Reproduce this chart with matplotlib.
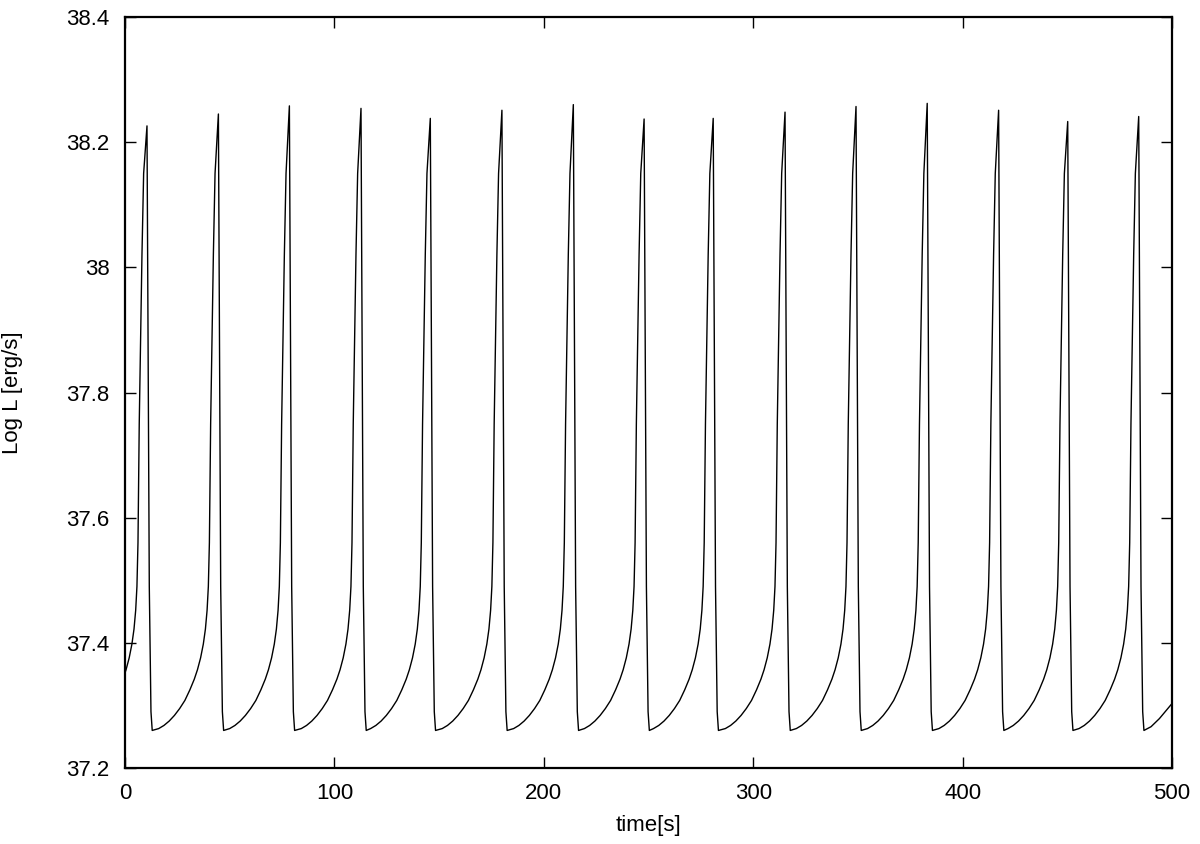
import numpy as np
import matplotlib
matplotlib.use("Agg")
import matplotlib.pyplot as plt

plt.rcParams['font.family'] = ['Liberation Sans', 'DejaVu Sans']

# Peak times [s] and peak values (Log L)
peak_t = [10.5, 44.6, 78.5, 112.7, 145.8, 180.0, 214.1, 247.9, 280.9, 315.2,
          349.1, 383.1, 417.2, 450.2, 484.1]
peak_v = [38.226, 38.245, 38.258, 38.254, 38.238, 38.251, 38.260, 38.237, 38.238,
          38.248, 38.257, 38.262, 38.251, 38.233, 38.241]

# One burst shape: rise before a peak, fall after it (offsets in s)
rise_dt = [-28.5, -26.0, -23.5, -21.0, -18.5, -16.0, -13.6, -11.5, -10.0, -8.5,
           -7.2, -6.2, -5.4, -4.8, -4.3, -3.7, -3.0, -2.4, -1.6]
rise_v = [37.263, 37.268, 37.275, 37.284, 37.295, 37.308, 37.325, 37.342, 37.357, 37.376,
          37.398, 37.422, 37.452, 37.490, 37.560, 37.75, 37.89, 38.02, 38.15]
fall_dt = [1.1, 1.9, 2.5]
fall_v = [37.49, 37.29, 37.260]

# Final slow rise after the last burst
tail_t = [490.0, 494.0, 500.0]
tail_v = [37.266, 37.279, 37.303]

t_all, v_all = [], []
for tp, vp in zip(peak_t, peak_v):
    t_all += [tp + d for d in rise_dt] + [tp] + [tp + d for d in fall_dt]
    v_all += rise_v + [vp] + fall_v
t_all += tail_t
v_all += tail_v

fig = plt.figure(figsize=(12, 8.44), dpi=100)
ax = fig.add_axes([125/1200, 1 - 768/844, (1172-125)/1200, (768-17)/844])
ax.plot(t_all, v_all, color='black', lw=1.0)

ax.set_xlim(0, 500)
ax.set_ylim(37.2, 38.4)
xt = [0, 100, 200, 300, 400, 500]
yt = [37.2, 37.4, 37.6, 37.8, 38.0, 38.2, 38.4]
ylab = ['37.2', '37.4', '37.6', '37.8', '38', '38.2', '38.4']
ax.set_xticks(xt)
ax.set_xticklabels([str(v) for v in xt])
ax.set_yticks(yt)
ax.set_yticklabels(ylab)
ax.tick_params(direction='in', length=8, width=1.0, top=True, right=True,
               labelsize=16, pad=11, colors='black')
for s in ax.spines.values():
    s.set_linewidth(1.6)

ax.set_xlabel('time[s]', fontsize=16)
ax.set_ylabel('Log L [erg/s]', fontsize=16)
ax.xaxis.set_label_coords(0.5, -0.0626)
ax.yaxis.set_label_coords(-0.0977, 0.5)

fig.savefig('out.png', dpi=100)
